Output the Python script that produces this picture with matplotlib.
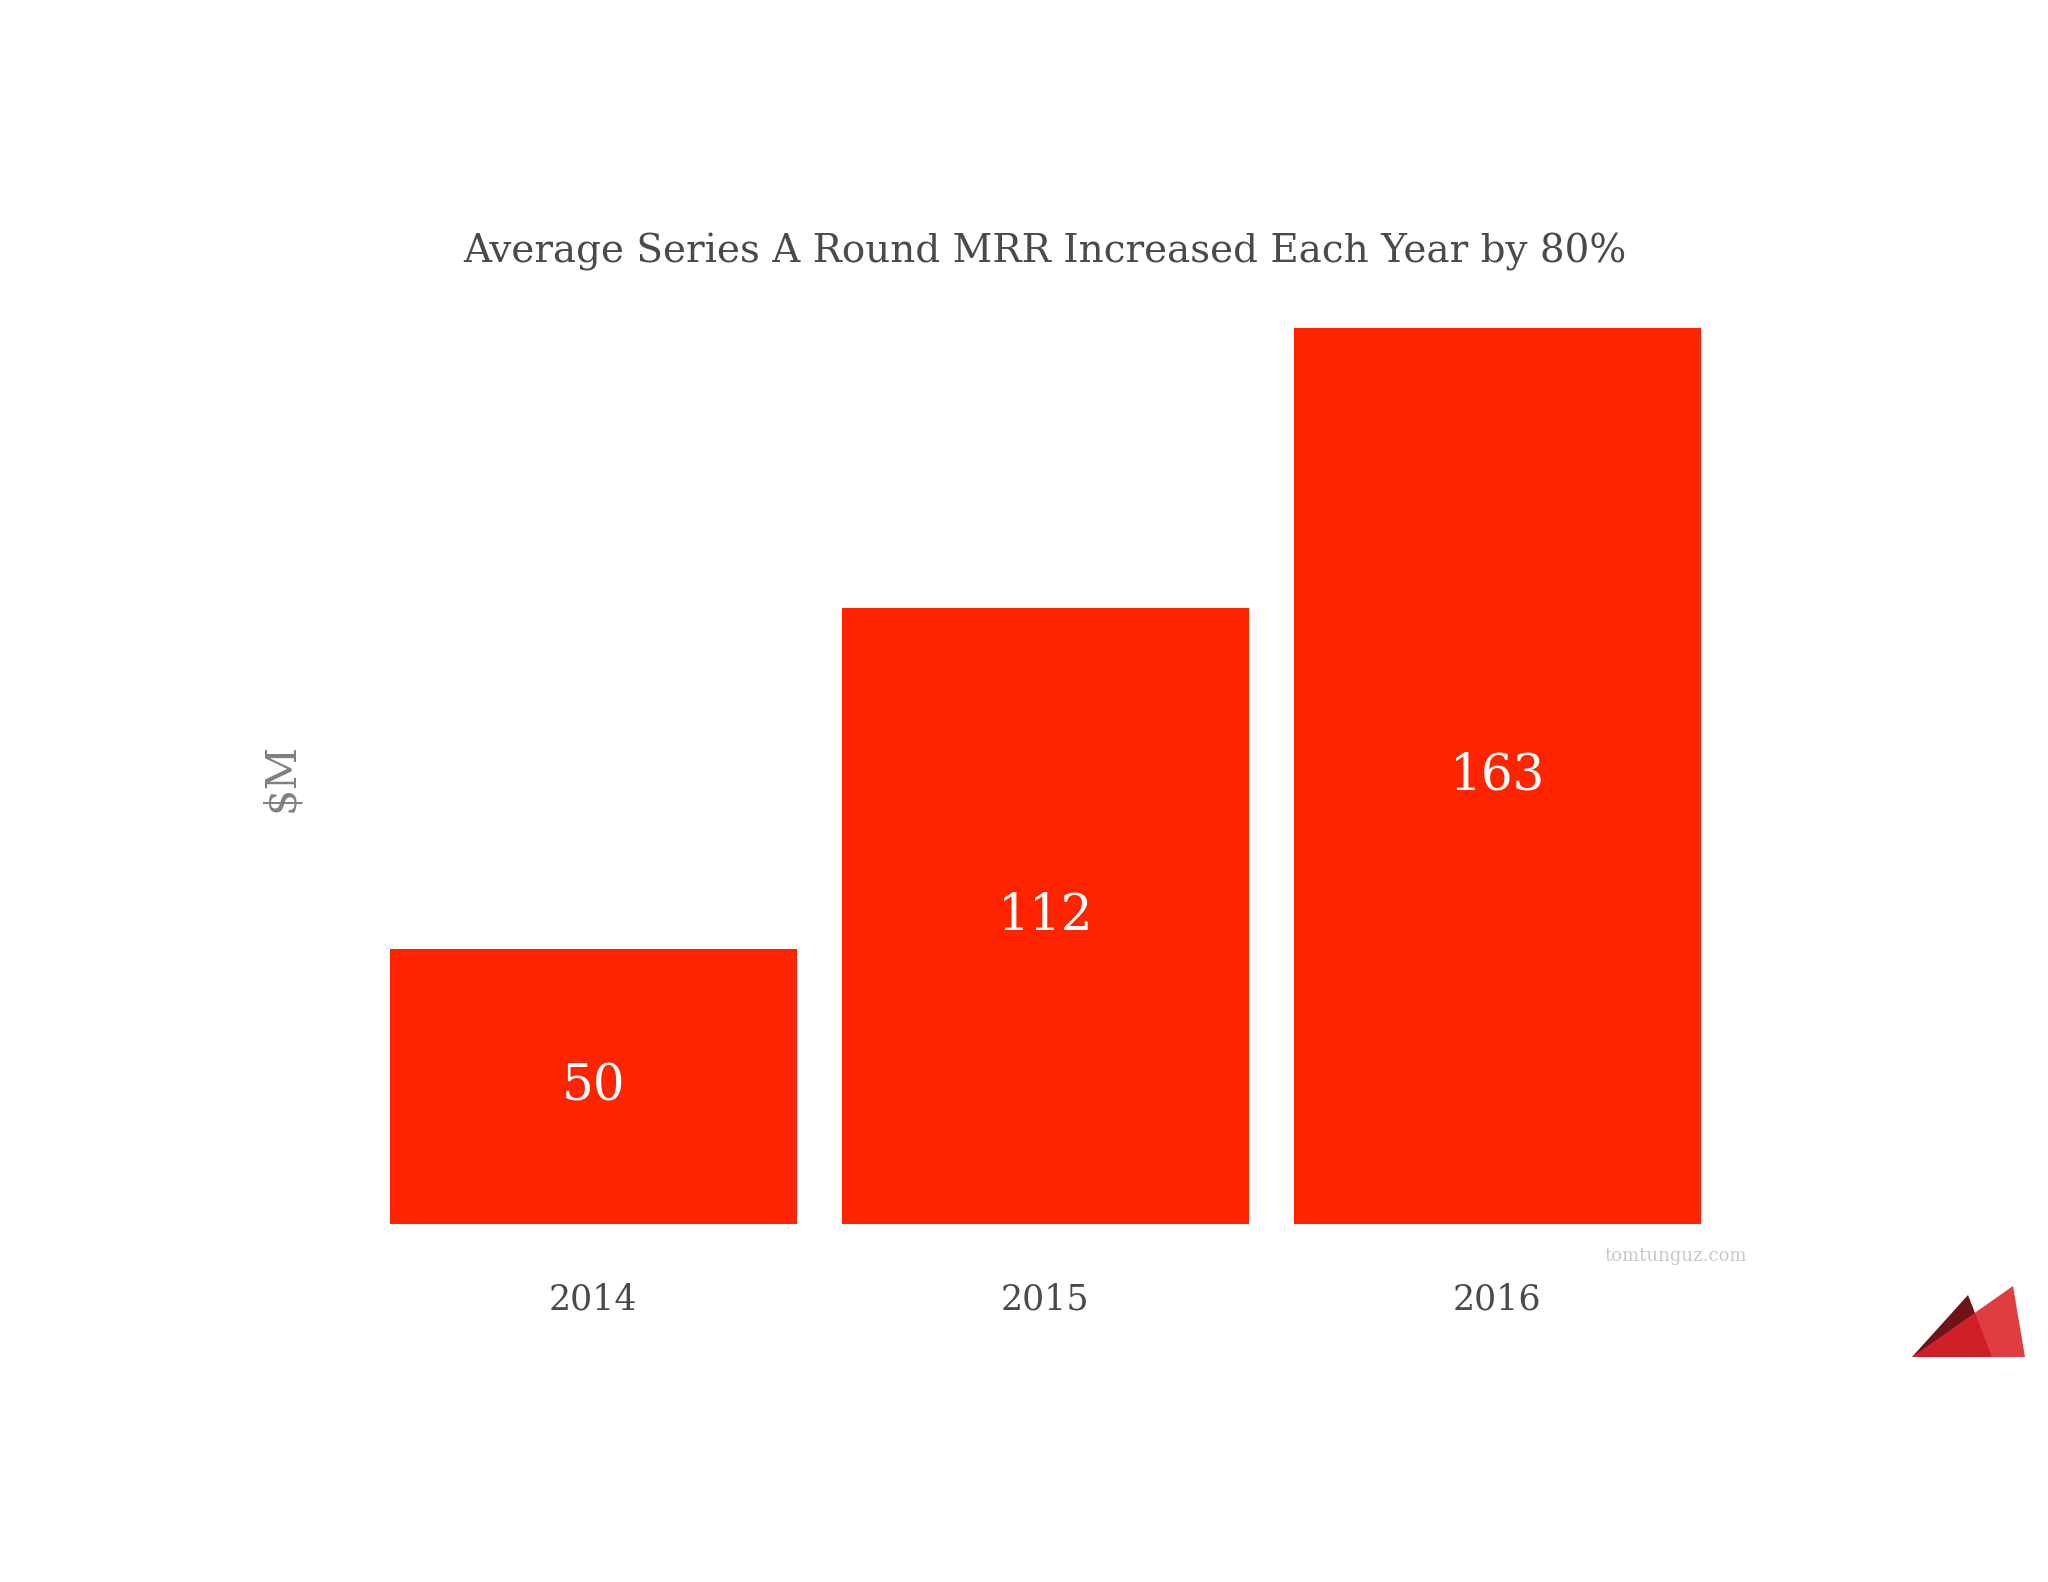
import matplotlib
matplotlib.use("Agg")
import matplotlib.pyplot as plt
from matplotlib.patches import Polygon

years = ["2014", "2015", "2016"]
mrr = [50, 112, 163]
title = "Average Series A Round MRR Increased Each Year by 80%"
ylabel = "$M"
watermark = "tomtunguz.com"

BAR = "#ff2400"
TXT = "#4a4a4a"
FONT = "DejaVu Serif"

W, H = 2048, 1582
fig = plt.figure(figsize=(W / 100, H / 100), dpi=100)
fig.patch.set_facecolor("white")

ax = fig.add_axes([367 / W, (H - 1224) / H, 1356.5 / W, 990 / H])
x = range(len(years))
bars = ax.bar(x, mrr, width=0.9, color=BAR, zorder=2)
ax.set_xlim(-0.5, 2.5)
ax.set_ylim(0, 180)
for s in ax.spines.values():
    s.set_visible(False)
ax.set_yticks([])
ax.set_xticks(list(x))
ax.set_xticklabels(years, fontsize=25, color=TXT, family=FONT)
ax.tick_params(axis="x", length=0, pad=42)

for xi, v in zip(x, mrr):
    ax.text(xi, v / 2, str(v), ha="center", va="center", color="white",
            fontsize=36, family=FONT)

fig.text(1045 / W, 1 - 252 / H, title, ha="center", va="center",
         fontsize=28, color=TXT, family=FONT)
fig.text(281 / W, 1 - 777 / H, ylabel, ha="center", va="center", rotation=90,
         fontsize=30, color="#808080", family=FONT)
fig.text(1676 / W, 1 - 1256 / H, watermark, ha="center", va="center",
         fontsize=13, color="#c8c8c8", family=FONT)

# logo (decorative)
def P(pts):
    return [(px / W, 1 - py / H) for px, py in pts]

fig.patches.append(Polygon(P([(1912, 1357), (1968, 1295), (1992, 1357)]),
                           closed=True, facecolor="#6e1419", edgecolor="none",
                           transform=fig.transFigure, figure=fig))
fig.patches.append(Polygon(P([(1912, 1357), (2013, 1286), (2025, 1357)]),
                           closed=True, facecolor="#dc2228", edgecolor="none",
                           alpha=0.88, transform=fig.transFigure, figure=fig))

fig.savefig("out.png", dpi=100, facecolor="white")
